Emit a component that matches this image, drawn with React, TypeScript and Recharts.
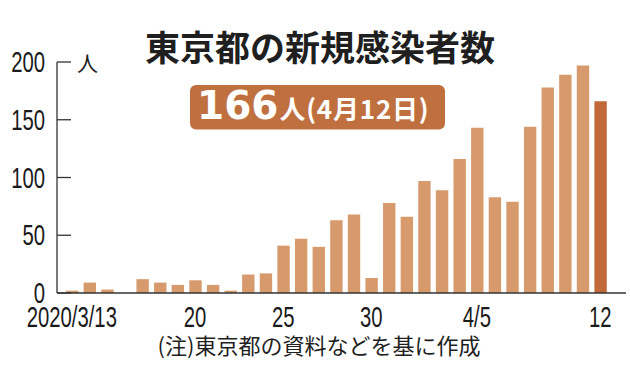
import React from "react";
import { BarChart, Bar, XAxis, YAxis, Cell } from "recharts";

const dates = [
  "3/13", "3/14", "3/15", "3/16", "3/17", "3/18", "3/19", "3/20", "3/21", "3/22",
  "3/23", "3/24", "3/25", "3/26", "3/27", "3/28", "3/29", "3/30", "3/31", "4/1",
  "4/2", "4/3", "4/4", "4/5", "4/6", "4/7", "4/8", "4/9", "4/10", "4/11", "4/12",
];
const cases = [
  2, 9, 3, 0, 12, 9, 7, 11, 7, 2,
  16, 17, 41, 47, 40, 63, 68, 13, 78, 66,
  97, 89, 116, 143, 83, 79, 144, 178, 189, 197, 166,
];
const tickDates = ["3/13", "3/20", "3/25", "3/30", "4/5", "4/12"];
const tickLabels = ["2020/3/13", "20", "25", "30", "4/5", "12"];
const yTicks = [0, 50, 100, 150, 200];

const title = "東京都の新規感染者数";
const highlightNumber = "166";
const highlightRest = "人(4月12日)";
const unitLabel = "人";
const footnote = "(注)東京都の資料などを基に作成";

const data = dates.map((d, i) => ({ date: d, value: cases[i] }));

const NUM_FONT = "'Liberation Sans', Arial, sans-serif";
const JP_FONT = "'Noto Sans CJK JP', 'Noto Sans', sans-serif";

const YTick = (props: any) => {
  const { x, y, payload } = props;
  return (
    <g transform={`translate(${x},${y})`}>
      <line x1={12} x2={26} y1={0} y2={0} stroke="#333" strokeWidth={1.3} />
      <text
        transform="scale(0.7,1)"
        textAnchor="end"
        y={10}
        fontSize={29}
        fontFamily={NUM_FONT}
        fill="#1a1a1a"
      >
        {payload.value}
      </text>
    </g>
  );
};

const XTick = (props: any) => {
  const { x, y, payload } = props;
  const idx = tickDates.indexOf(payload.value);
  const label = idx >= 0 ? tickLabels[idx] : "";
  return (
    <g transform={`translate(${x},${y + 34})`}>
      <text
        transform="scale(0.7,1)"
        textAnchor="middle"
        fontSize={29}
        fontFamily={NUM_FONT}
        fill="#1a1a1a"
      >
        {label}
      </text>
    </g>
  );
};

export default function App() {
  return (
    <div style={{ position: "absolute", left: 0, top: 0, width: 630, height: 391, background: "#fff" }}>
      <BarChart
        width={630}
        height={391}
        data={data}
        margin={{ top: 62, right: 4, bottom: 0, left: 0 }}
      >
        <XAxis
          dataKey="date"
          ticks={tickDates}
          interval={0}
          tick={<XTick />}
          tickLine={false}
          tickSize={0}
          tickMargin={0}
          height={98}
          padding={{ left: 6, right: 17 }}
          axisLine={{ stroke: "#333", strokeWidth: 1.5 }}
        />
        <YAxis
          domain={[0, 200]}
          ticks={yTicks}
          width={57}
          tick={<YTick />}
          tickLine={false}
          tickSize={0}
          tickMargin={12}
          axisLine={{ stroke: "#333", strokeWidth: 1.3 }}
        />
        <Bar dataKey="value" barSize={12.4} isAnimationActive={false}>
          {data.map((d, i) => (
            <Cell key={d.date} fill={i === data.length - 1 ? "#c2693a" : "#d79a6d"} />
          ))}
        </Bar>
      </BarChart>
      <svg
        width={630}
        height={391}
        style={{ position: "absolute", left: 0, top: 0, pointerEvents: "none" }}
      >
        <text x={320} y={61} textAnchor="middle" fontSize={35} fontWeight={700} fontFamily={JP_FONT} fill="#1f1f1f">
          {title}
        </text>
        <rect x={190} y={85} width={255} height={44.5} rx={6} fill="#c0703f" />
        <text x={197} y={119} fontSize={39} fontWeight={700} fontFamily="'DejaVu Sans', sans-serif" fill="#fff">
          {highlightNumber}
          <tspan dx={1} fontSize={26} fontFamily={JP_FONT} letterSpacing={0.8}>{highlightRest}</tspan>
        </text>
        <text x={77} y={71} fontSize={21} fontFamily={JP_FONT} fill="#1f1f1f">
          {unitLabel}
        </text>
        <text x={319} y={354} textAnchor="middle" fontSize={22} fontFamily={JP_FONT} fill="#1f1f1f">
          {footnote}
        </text>
      </svg>
    </div>
  );
}
